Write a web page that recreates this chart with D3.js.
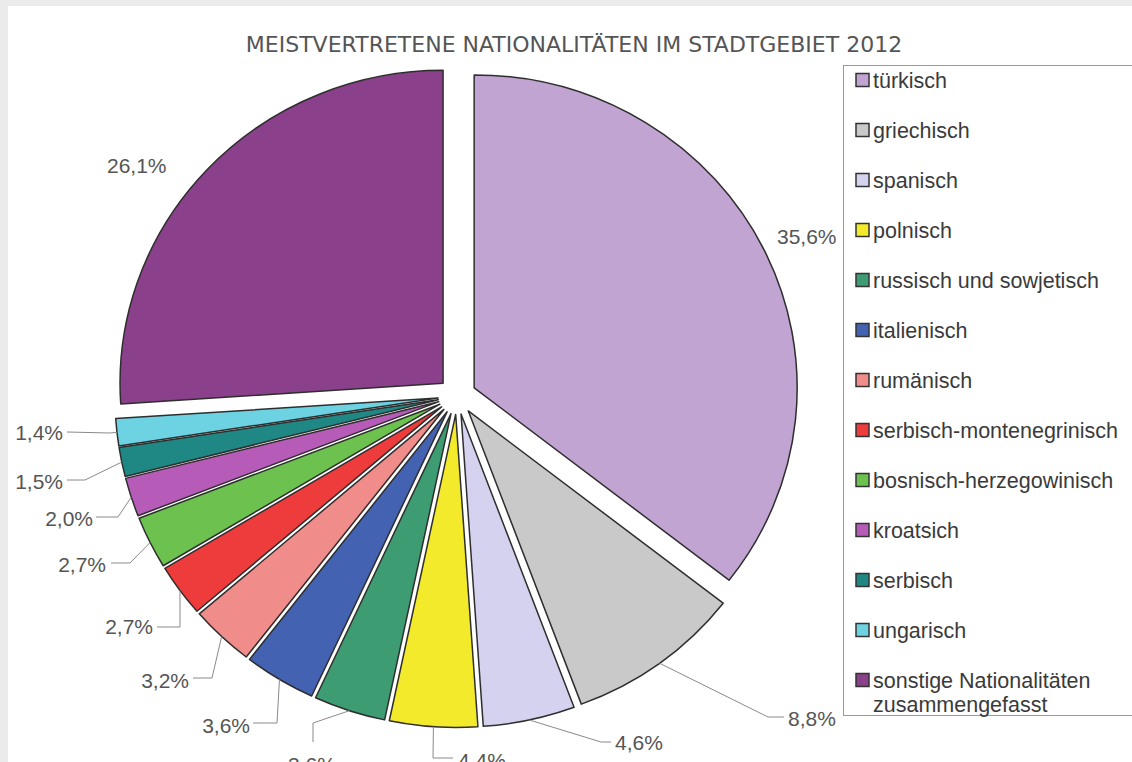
<!DOCTYPE html>
<html>
<head>
<meta charset="utf-8">
<script src="https://cdn.jsdelivr.net/npm/d3@7"></script>
<style>
  html, body { margin: 0; padding: 0; background: #ebebeb; }
  svg { display: block; }
</style>
</head>
<body>
<svg id="chart" width="1132" height="762"></svg>
<script>
// ---------- DATA ----------
const title = "MEISTVERTRETENE NATIONALITÄTEN IM STADTGEBIET 2012";
const categories = [
  "türkisch", "griechisch", "spanisch", "polnisch", "russisch und sowjetisch",
  "italienisch", "rumänisch", "serbisch-montenegrinisch", "bosnisch-herzegowinisch",
  "kroatsich", "serbisch", "ungarisch", "sonstige Nationalitäten zusammengefasst"
];
const values = [35.6, 8.8, 4.6, 4.4, 3.6, 3.6, 3.2, 2.7, 2.7, 2.0, 1.5, 1.4, 26.1];
const colors = [
  "#c1a4d1", "#c9c9c9", "#d4d2ee", "#f3ea2b", "#3e9c73", "#4462b2", "#f08c8a",
  "#ee3b3b", "#6dc24f", "#b65cb8", "#1f8784", "#6dd3e3", "#8a408a"
];

// ---------- LAYOUT ----------
const W = 1132, H = 762;
const cx = 457, cy = 396, R = 313, stretchX = 1.032, explode = 18.5;
// label text position [x, y(center)], text-anchor, extra leader points after the arc anchor
const labelLayout = [
  { tx: 777, ty: 236, ta: "start",  pts: [] },
  { tx: 788, ty: 718, ta: "start",  pts: [[768, 717], [784, 717]] },
  { tx: 615, ty: 742, ta: "start",  pts: [[601, 742], [611, 742]] },
  { tx: 458, ty: 760, ta: "start",  pts: [[433, 758], [453, 758]] },
  { tx: 312, ty: 764, ta: "middle", pts: [[313, 723], [313, 742]] },
  { tx: 250, ty: 725, ta: "end",    pts: [[277, 723], [253, 723]] },
  { tx: 189, ty: 680, ta: "end",    pts: [[212, 678], [193, 678]] },
  { tx: 153, ty: 626, ta: "end",    pts: [[180, 627], [157, 627]] },
  { tx: 106, ty: 564, ta: "end",    pts: [[130, 563], [111, 563]] },
  { tx: 93,  ty: 518, ta: "end",    pts: [[118, 517], [96, 517]] },
  { tx: 63,  ty: 481, ta: "end",    pts: [[85, 480], [67, 480]] },
  { tx: 63,  ty: 432, ta: "end",    pts: [[110, 433], [67, 432]] },
  { tx: 107, ty: 165, ta: "start",  pts: [] }
];
const legend = { x: 843, y: 65, h: 650, rowY0: 80, rowStep: 50, sq: 13, textX: 873, wrap: 255 };
const fontLabel = "'Liberation Sans', Arial, sans-serif";

const data = categories.map((c, i) => ({ name: c, value: values[i], color: colors[i],
  label: values[i].toFixed(1).replace(".", ",") + "%", layout: labelLayout[i] }));

const svg = d3.select("#chart");

// panel
svg.append("rect").attr("x", 8).attr("y", 6).attr("width", W - 8).attr("height", H - 6).attr("fill", "#ffffff");

// title
svg.append("text")
  .attr("x", 574).attr("y", 52)
  .attr("text-anchor", "middle")
  .attr("font-family", "'DejaVu Sans', Verdana, sans-serif")
  .attr("font-size", 22)
  .attr("fill", "#555")
  .text(title);

// pie
const pie = d3.pie().sort(null).value(d => d.value).startAngle(0).endAngle(2 * Math.PI);
const arcs = pie(data);
const arcGen = d3.arc().innerRadius(0).outerRadius(R);
const anchorArc = d3.arc().innerRadius(R).outerRadius(R);

const g = svg.append("g").attr("transform", `translate(${cx},${cy}) scale(${stretchX},1)`);
g.selectAll("path.slice")
  .data(arcs)
  .join("path")
  .attr("class", "slice")
  .attr("d", arcGen)
  .attr("transform", d => {
    const m = (d.startAngle + d.endAngle) / 2;
    return `translate(${explode * Math.sin(m)},${-explode * Math.cos(m)})`;
  })
  .attr("fill", d => d.data.color)
  .attr("stroke", "#2e2e2e")
  .attr("stroke-width", 1.5)
  .attr("stroke-linejoin", "round")
  .attr("vector-effect", "non-scaling-stroke");

// labels + leaders
const lab = svg.append("g");
arcs.forEach(d => {
  const m = (d.startAngle + d.endAngle) / 2;
  const c = anchorArc.centroid(d);
  const ax = cx + stretchX * (c[0] + explode * Math.sin(m));
  const ay = cy + (c[1] - explode * Math.cos(m));
  const L = d.data.layout;
  if (L.pts.length) {
    const pts = [[ax, ay], ...L.pts];
    lab.append("path")
      .attr("d", d3.line()(pts))
      .attr("fill", "none")
      .attr("stroke", "#8a8a8a")
      .attr("stroke-width", 1);
  }
  lab.append("text")
    .attr("x", L.tx).attr("y", L.ty + 7.5)
    .attr("text-anchor", L.ta)
    .attr("font-family", fontLabel)
    .attr("font-size", 21)
    .attr("fill", "#555")
    .text(d.data.label);
});

// legend
const lg = svg.append("g");
lg.append("rect")
  .attr("x", legend.x + 0.5).attr("y", legend.y + 0.5)
  .attr("width", W).attr("height", legend.h)
  .attr("fill", "#fff").attr("stroke", "#9a9a9a").attr("stroke-width", 1);

data.forEach((d, i) => {
  const y = legend.rowY0 + i * legend.rowStep;
  lg.append("rect")
    .attr("x", legend.textX - 17).attr("y", y - legend.sq / 2)
    .attr("width", legend.sq).attr("height", legend.sq)
    .attr("fill", d.color).attr("stroke", "#333").attr("stroke-width", 1.5);
  const t = lg.append("text")
    .attr("x", legend.textX).attr("y", y + 7.5)
    .attr("font-family", fontLabel)
    .attr("font-size", 21.5)
    .attr("fill", "#3a3a3a");
  // greedy wrap
  const words = d.name.split(" ");
  let line = [];
  let tspan = t.append("tspan").attr("x", legend.textX).attr("dy", 0);
  words.forEach(w => {
    line.push(w);
    tspan.text(line.join(" "));
    if (tspan.node().getComputedTextLength() > legend.wrap && line.length > 1) {
      line.pop();
      tspan.text(line.join(" "));
      line = [w];
      tspan = t.append("tspan").attr("x", legend.textX).attr("dy", 24).text(w);
    }
  });
});
</script>
</body>
</html>
